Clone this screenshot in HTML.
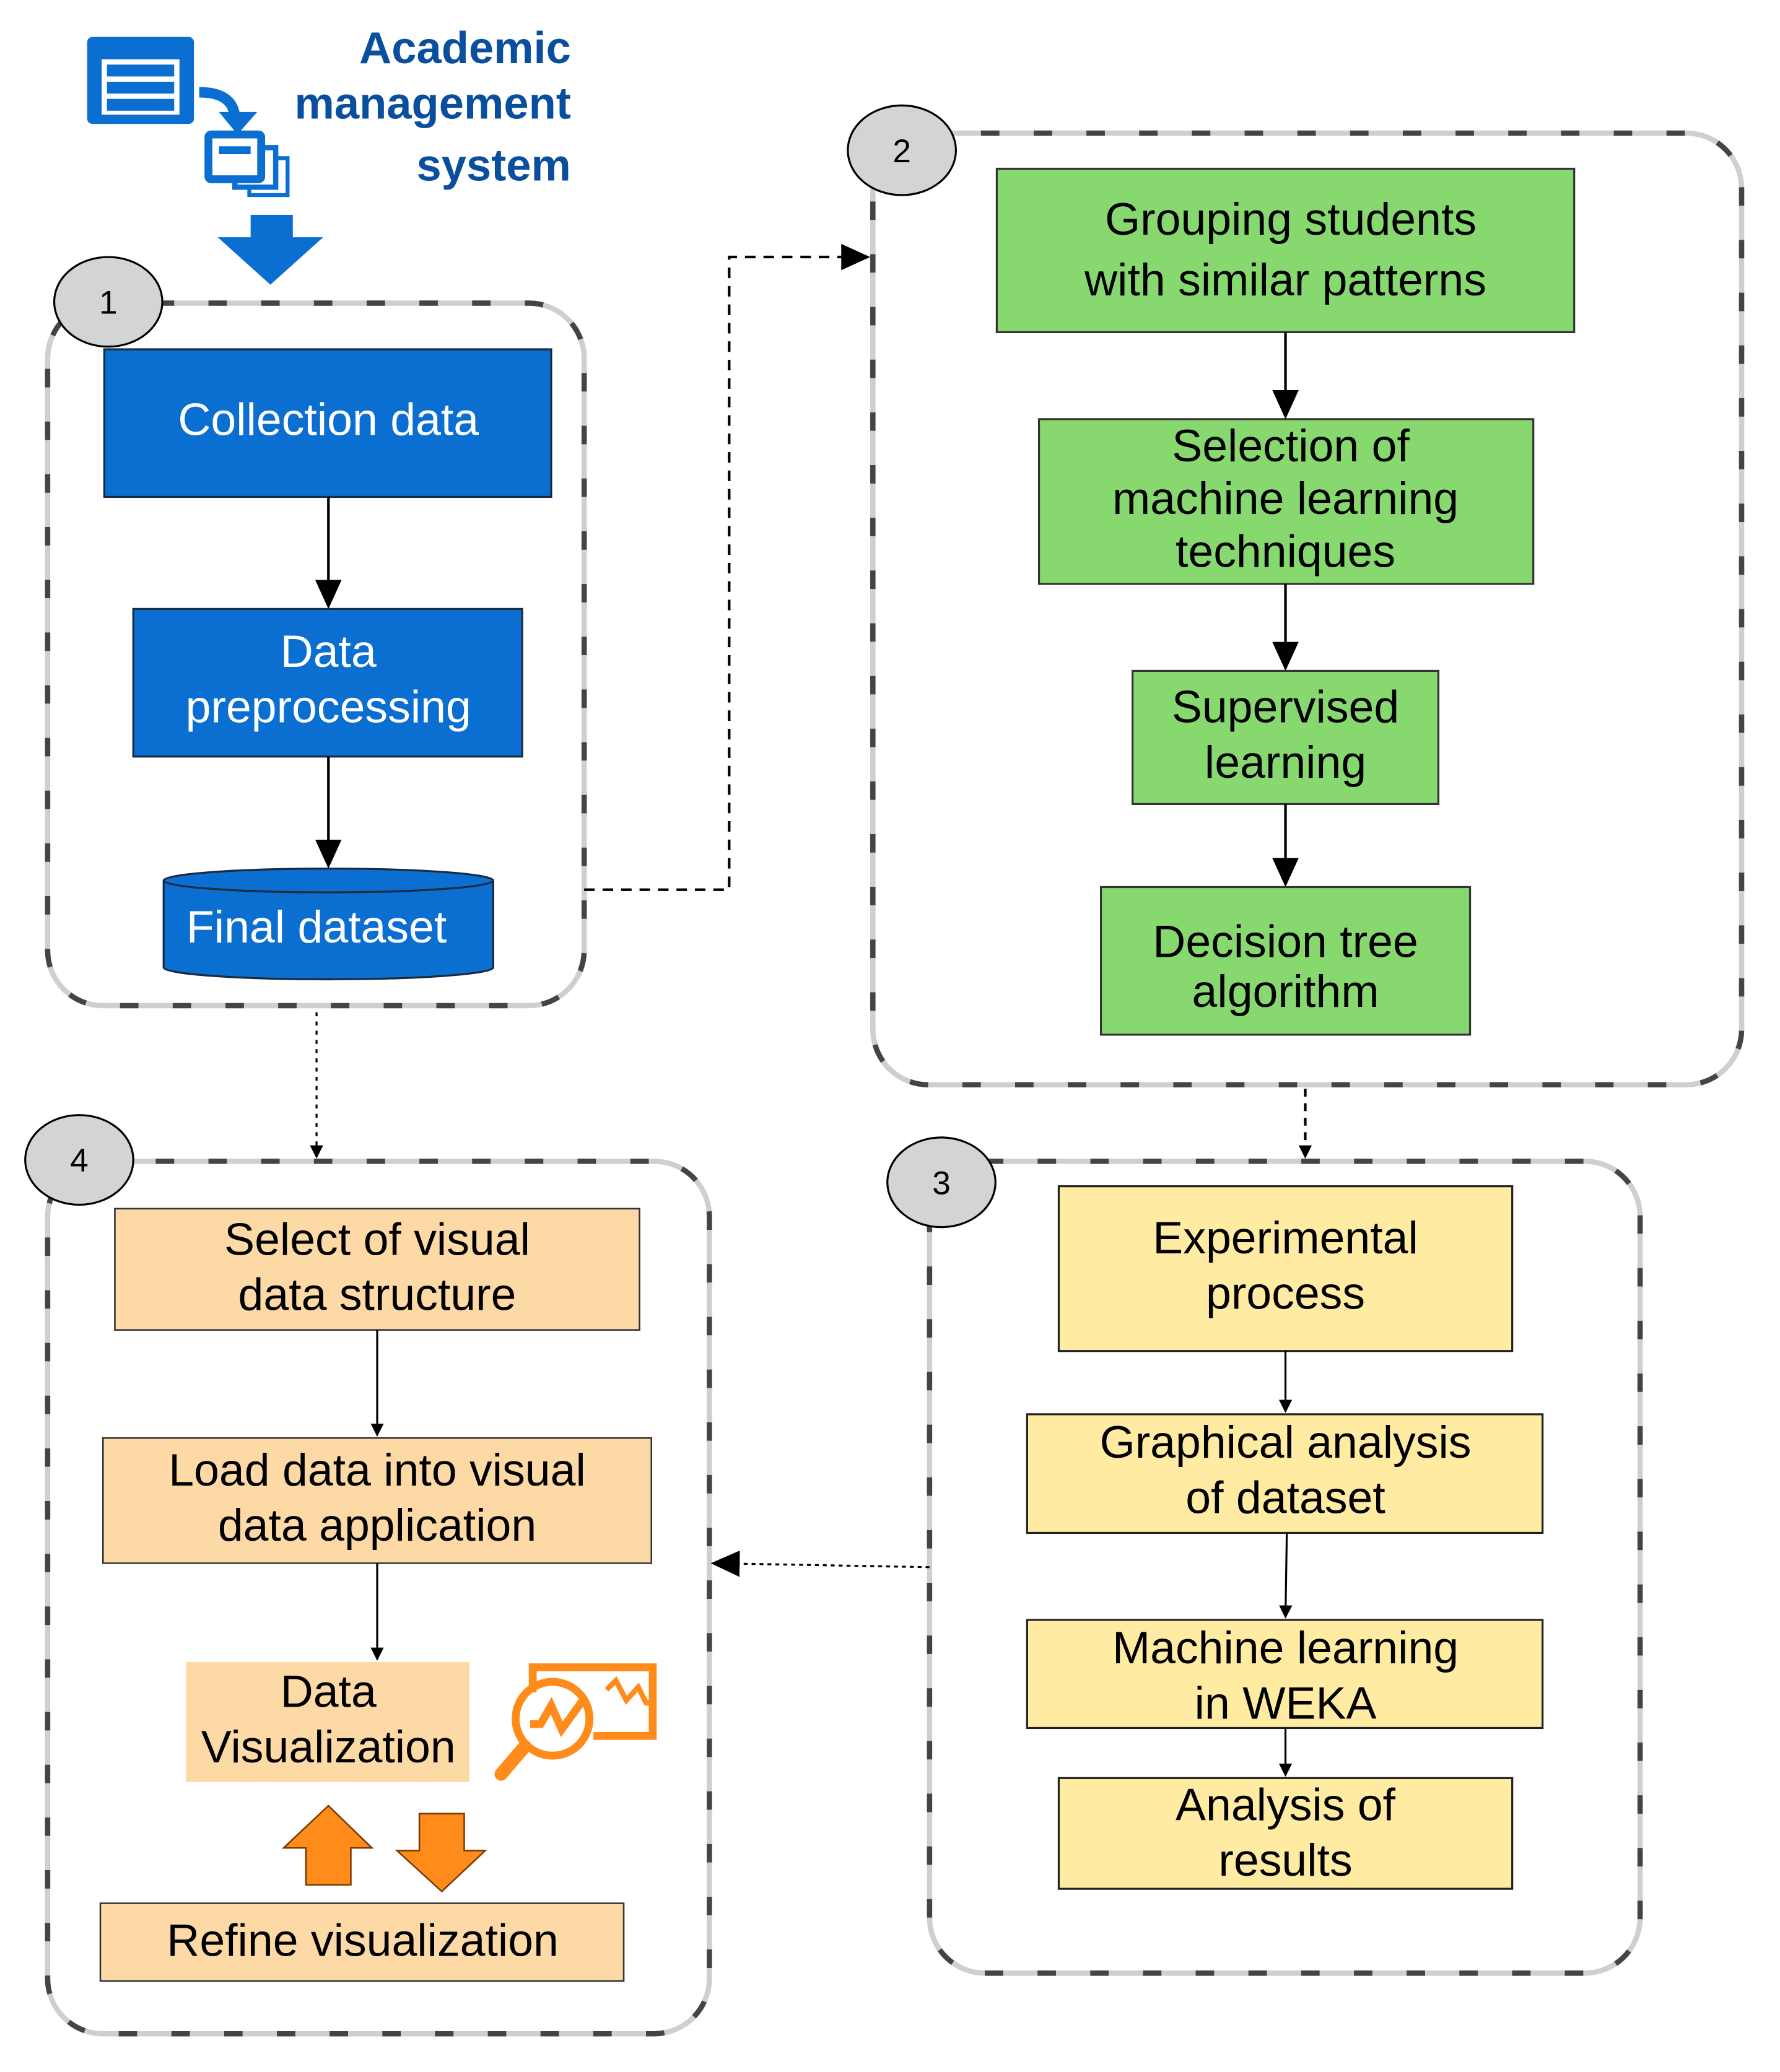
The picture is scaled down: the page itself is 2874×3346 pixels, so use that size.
<!DOCTYPE html>
<html><head><meta charset="utf-8"><style>html,body{margin:0;padding:0;background:#fff}svg{display:block}</style></head>
<body>
<svg width="2874" height="3346" viewBox="0 0 1350 1572" xmlns="http://www.w3.org/2000/svg" font-family="Liberation Sans, Arial, sans-serif">
<defs>
<marker id="ah" markerWidth="10" markerHeight="10" refX="9" refY="5" orient="auto" markerUnits="userSpaceOnUse" viewBox="0 0 10 10"><path d="M0,0 L10,5 L0,10 z" fill="#000"/></marker>
<marker id="ahb" markerWidth="22" markerHeight="20" refX="20" refY="10" orient="auto" markerUnits="userSpaceOnUse"><path d="M0,0 L22,10 L0,20 z" fill="#000"/></marker>
</defs>
<!-- header -->
<rect x="66" y="28" width="81" height="66" rx="4" fill="#0a6fd1"/>
<rect x="77" y="45" width="59" height="42" fill="#fff"/>
<rect x="81" y="49" width="51" height="9" fill="#0a6fd1"/>
<rect x="81" y="62" width="51" height="9" fill="#0a6fd1"/>
<rect x="81" y="75" width="51" height="9" fill="#0a6fd1"/>
<path d="M151,70 Q176,70 178,88" stroke="#0a6fd1" stroke-width="8" fill="none"/>
<path d="M166,85 L195,85 L180,102 z" fill="#0a6fd1"/>
<rect x="189" y="120" width="29" height="28" fill="none" stroke="#0a6fd1" stroke-width="3"/>
<rect x="178" y="112" width="31" height="30" fill="#fff" stroke="#0a6fd1" stroke-width="4"/>
<rect x="158" y="102" width="40" height="34" rx="2" fill="#fff" stroke="#0a6fd1" stroke-width="6"/>
<rect x="166" y="111" width="24" height="6" fill="#0a6fd1"/>
<path d="M190,163 L222,163 L222,180 L245,180 L205,216 L165,180 L190,180 z" fill="#0a6fd1"/>
<g font-weight="bold" fill="#0a4f9e" font-size="34" text-anchor="end">
<text x="433" y="48">Academic</text><text x="433" y="90">management</text><text x="433" y="137">system</text>
</g>
<!-- containers -->
<g fill="none">
<rect x="36" y="230" width="407" height="533" rx="42" stroke="#cfcfcf" stroke-width="4"/>
<rect x="36" y="230" width="407" height="533" rx="42" stroke="#444" stroke-width="4" stroke-dasharray="14 26"/>
<rect x="662" y="101" width="659" height="722" rx="42" stroke="#cfcfcf" stroke-width="4"/>
<rect x="662" y="101" width="659" height="722" rx="42" stroke="#444" stroke-width="4" stroke-dasharray="14 26"/>
<rect x="705" y="881" width="539" height="616" rx="42" stroke="#cfcfcf" stroke-width="4"/>
<rect x="705" y="881" width="539" height="616" rx="42" stroke="#444" stroke-width="4" stroke-dasharray="14 26"/>
<rect x="36" y="881" width="502" height="662" rx="42" stroke="#cfcfcf" stroke-width="4"/>
<rect x="36" y="881" width="502" height="662" rx="42" stroke="#444" stroke-width="4" stroke-dasharray="14 26"/>
</g>
<g fill="#d3d4d6" stroke="#000" stroke-width="1.5">
<ellipse cx="82" cy="229" rx="41" ry="34"/><ellipse cx="684" cy="114" rx="41" ry="34"/>
<ellipse cx="714" cy="897" rx="41" ry="34"/><ellipse cx="60" cy="880" rx="41" ry="34"/>
</g>
<g font-size="25" text-anchor="middle" fill="#000">
<text x="82" y="238">1</text><text x="684" y="123">2</text><text x="714" y="906">3</text><text x="60" y="889">4</text>
</g>
<!-- blue -->
<g fill="#0a6fd1" stroke="#1a2a40" stroke-width="1.5">
<rect x="79" y="265" width="339" height="112"/>
<rect x="101" y="462" width="295" height="112"/>
<path d="M124,668 L124,734 A125,9 0 0 0 374,734 L374,668"/>
<ellipse cx="249" cy="668" rx="125" ry="9"/>
</g>
<g fill="#fff" font-size="34.5" text-anchor="middle">
<text x="249" y="330">Collection data</text>
<text x="249" y="506">Data</text><text x="249" y="548">preprocessing</text>
<text x="240" y="715">Final dataset</text>
</g>
<g stroke="#000" stroke-width="2">
<line x1="249" y1="377" x2="249" y2="460" marker-end="url(#ahb)"/>
<line x1="249" y1="574" x2="249" y2="657" marker-end="url(#ahb)"/>
</g>
<!-- green -->
<g fill="#88d870" stroke="#333" stroke-width="1.5">
<rect x="756" y="128" width="438" height="124"/>
<rect x="788" y="318" width="375" height="125"/>
<rect x="859" y="509" width="232" height="101"/>
<rect x="835" y="673" width="280" height="112"/>
</g>
<g font-size="34.5" text-anchor="middle" fill="#000">
<text x="979" y="178">Grouping students</text><text x="975" y="224">with similar patterns</text>
<text x="979" y="350">Selection of</text><text x="975" y="390">machine learning</text><text x="975" y="430">techniques</text>
<text x="975" y="548">Supervised</text><text x="975" y="590">learning</text>
<text x="975" y="726">Decision tree</text><text x="975" y="764">algorithm</text>
</g>
<g stroke="#000" stroke-width="2">
<line x1="975" y1="252" x2="975" y2="316" marker-end="url(#ahb)"/>
<line x1="975" y1="443" x2="975" y2="507" marker-end="url(#ahb)"/>
<line x1="975" y1="610" x2="975" y2="671" marker-end="url(#ahb)"/>
</g>
<!-- yellow -->
<g fill="#ffeba1" stroke="#222" stroke-width="1.5">
<rect x="803" y="900" width="344" height="125"/>
<rect x="779" y="1073" width="391" height="90"/>
<rect x="779" y="1229" width="391" height="82"/>
<rect x="803" y="1349" width="344" height="84"/>
</g>
<g font-size="34.5" text-anchor="middle" fill="#000">
<text x="975" y="951">Experimental</text><text x="975" y="993">process</text>
<text x="975" y="1106">Graphical analysis</text><text x="975" y="1148">of dataset</text>
<text x="975" y="1262">Machine learning</text><text x="975" y="1304">in WEKA</text>
<text x="975" y="1381">Analysis of</text><text x="975" y="1423">results</text>
</g>
<g stroke="#000" stroke-width="1.5">
<line x1="975" y1="1025" x2="975" y2="1071" marker-end="url(#ah)"/>
<line x1="976" y1="1163" x2="975" y2="1227" marker-end="url(#ah)"/>
<line x1="975" y1="1311" x2="975" y2="1347" marker-end="url(#ah)"/>
</g>
<!-- orange -->
<g fill="#fdd9a6" stroke="#333" stroke-width="1.2">
<rect x="87" y="917" width="398" height="92"/>
<rect x="78" y="1091" width="416" height="95"/>
<rect x="76" y="1444" width="397" height="59"/>
</g>
<rect x="141" y="1261" width="215" height="91" fill="#fdd9a6"/>
<g font-size="34.5" text-anchor="middle" fill="#000">
<text x="286" y="952">Select of visual</text><text x="286" y="994">data structure</text>
<text x="286" y="1127">Load data into visual</text><text x="286" y="1169">data application</text>
<text x="249" y="1295">Data</text><text x="249" y="1337">Visualization</text>
<text x="275" y="1484">Refine visualization</text>
</g>
<g stroke="#000" stroke-width="1.5">
<line x1="286" y1="1009" x2="286" y2="1089" marker-end="url(#ah)"/>
<line x1="286" y1="1186" x2="286" y2="1259" marker-end="url(#ah)"/>
</g>
<g fill="#ff8c1a" stroke="#7a3a00" stroke-width="1.2">
<path d="M249,1370 L282,1402 L266,1402 L266,1430 L232,1430 L232,1402 L215,1402 z"/>
<path d="M335,1435 L368,1404 L352,1404 L352,1376 L318,1376 L318,1404 L301,1404 z"/>
</g>
<g fill="none" stroke="#ff8c1a" stroke-width="6">
<path d="M404,1284 L404,1265 L495,1265 L495,1317 L450,1317"/>
<circle cx="419" cy="1304" r="28"/>
<path d="M402,1308 L410,1308 L418,1294 L426,1312 L442,1290"/>
<path d="M460,1282 L467,1275 L475,1290 L484,1280 L490,1292 L497,1292" stroke-width="4"/>
<path d="M398,1325 L380,1346" stroke-width="10" stroke-linecap="round"/>
</g>
<!-- connectors -->
<g fill="none" stroke="#000" stroke-width="2">
<path d="M443,675 L553,675 L553,195 L658,195" stroke-dasharray="8 6" marker-end="url(#ahb)"/>
<line x1="240" y1="768" x2="240" y2="878" stroke-dasharray="3 4" stroke-width="1.5" marker-end="url(#ah)"/>
<line x1="990" y1="826" x2="990" y2="878" stroke-dasharray="6 5" marker-end="url(#ah)"/>
<line x1="705" y1="1189" x2="541" y2="1186" stroke-dasharray="3 3" stroke-width="1.5" marker-end="url(#ahb)"/>
</g>
</svg>
</body></html>
